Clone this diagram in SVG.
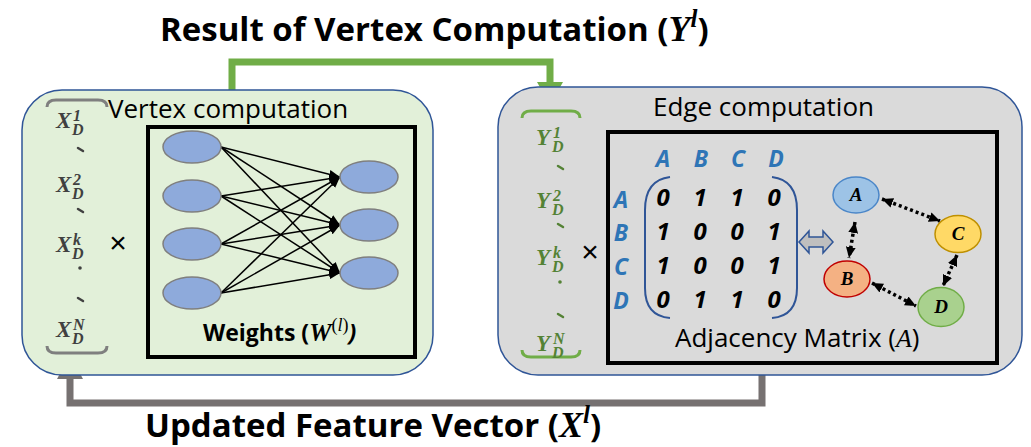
<svg xmlns="http://www.w3.org/2000/svg" width="1031" height="447" viewBox="0 0 1031 447">
  <style>
    .sans { font-family: "Open Sans", "Liberation Sans", sans-serif; }
    .title { font-family: "Open Sans", "Liberation Sans", sans-serif; font-weight: bold; font-size: 33px; fill: #000; }
    .lbl { font-family: "Open Sans", "Liberation Sans", sans-serif; font-size: 26px; fill: #000; }
    .math { font-family: "Liberation Serif", "DejaVu Serif", serif; font-style: italic; font-weight: bold; }
    .mathr { font-family: "Liberation Serif", "DejaVu Serif", serif; font-style: italic; }
    .xv { font-family: "Liberation Serif", "DejaVu Serif", serif; font-style: italic; font-weight: bold; font-size: 23px; fill: #404040; }
    .yv { font-family: "Liberation Serif", "DejaVu Serif", serif; font-style: italic; font-weight: bold; font-size: 23px; fill: #548235; }
    .ss { font-size: 16px; }
    .box-v { fill: #e2f0d9; stroke: #2f5597; stroke-width: 1.5; }
    .box-e { fill: #dadada; stroke: #2f5597; stroke-width: 1.5; }
    .inner { fill: none; stroke: #000; stroke-width: 4; }
    .neuron { fill: #8eaadb; stroke: #7f7f7f; stroke-width: 1.5; }
    .wire { stroke: #000; stroke-width: 1.5; fill: none; marker-end: url(#tip); }
    .hdr { font-family: "Open Sans", "Liberation Sans", sans-serif; font-style: italic; font-weight: bold; font-size: 23px; fill: #2e75b6; }
    .bit { font-family: "Open Sans", "Liberation Sans", sans-serif; font-style: italic; font-weight: bold; font-size: 24px; fill: #000; }
    .node-l { font-family: "Liberation Serif", "DejaVu Serif", serif; font-style: italic; font-weight: bold; font-size: 19px; fill: #000; }
    .dots { stroke: #000; stroke-width: 3.5; stroke-dasharray: 3 3; fill: none; marker-start: url(#dtip); marker-end: url(#dtip); }
    .times { font-family: "Liberation Sans", sans-serif; font-size: 30px; fill: #000; }
  </style>
  <defs>
    <marker id="tip" viewBox="0 0 10 8" refX="10" refY="4" markerWidth="11" markerHeight="9" markerUnits="userSpaceOnUse" orient="auto">
      <path d="M0,0 L10,4 L0,8 z" fill="#000"/>
    </marker>
    <marker id="dtip" viewBox="0 0 10 9" refX="10" refY="4.5" markerWidth="11" markerHeight="10" markerUnits="userSpaceOnUse" orient="auto-start-reverse">
      <path d="M0,0 L10,4.5 L0,9 z" fill="#000"/>
    </marker>
  </defs>

  <!-- connectors between the two stages -->
  <g id="connectors">
    <path d="M232,90 V62 H550 V84" fill="none" stroke="#70ad47" stroke-width="7"/>
    <polygon points="537,82 563,82 550,105" fill="#70ad47"/>
    <path d="M762,375 V403 H70 V376" fill="none" stroke="#767171" stroke-width="7"/>
    <polygon points="57,379 83,379 70,355" fill="#767171"/>
  </g>

  <text class="title" x="160" y="41">Result of Vertex Computation (<tspan class="math" font-size="36">Y</tspan><tspan class="mathr" font-size="25" dy="-14">l</tspan><tspan dy="14">)</tspan></text>
  <text class="title" x="145" y="437">Updated Feature Vector (<tspan class="math" font-size="36">X</tspan><tspan class="mathr" font-size="25" dy="-14">l</tspan><tspan dy="14">)</tspan></text>

  <!-- vertex computation stage -->
  <g id="vertex-stage">
    <rect class="box-v" x="22" y="90" width="411" height="285" rx="40" ry="40"/>
    <text class="lbl" x="108" y="118">Vertex computation</text>
    <path d="M47,107 Q47,100 56,100 H98 Q107,100 107,107" fill="none" stroke="#7f7f7f" stroke-width="3"/>
    <path d="M47,346 Q47,353 56,353 H98 Q107,353 107,346" fill="none" stroke="#7f7f7f" stroke-width="3"/>
    <text class="xv" x="56" y="128">X<tspan class="ss" x="73" y="121">1</tspan><tspan class="ss" x="72" y="135">D</tspan></text>
    <text class="xv" x="56" y="192">X<tspan class="ss" x="73" y="185">2</tspan><tspan class="ss" x="72" y="199">D</tspan></text>
    <text class="xv" x="56" y="252">X<tspan class="ss" x="73" y="245">k</tspan><tspan class="ss" x="72" y="259">D</tspan></text>
    <text class="xv" x="56" y="337">X<tspan class="ss" x="73" y="330">N</tspan><tspan class="ss" x="72" y="344">D</tspan></text>
    <g stroke="#404040" stroke-width="2.5" stroke-linecap="round">
      <line x1="78" y1="148" x2="83" y2="151"/>
      <line x1="78" y1="209" x2="83" y2="212"/>
      <line x1="78" y1="298" x2="83" y2="301"/>
    </g>
    <circle cx="80" cy="268" r="1.8" fill="#404040"/>
    <text class="times" x="118" y="253" text-anchor="middle">×</text>

    <rect class="inner" x="148" y="127" width="267" height="230"/>
    <g id="weights">
      <line class="wire" x1="221" y1="147" x2="340" y2="177"/>
      <line class="wire" x1="221" y1="147" x2="340" y2="225"/>
      <line class="wire" x1="221" y1="147" x2="340" y2="273"/>
      <line class="wire" x1="221" y1="196" x2="340" y2="177"/>
      <line class="wire" x1="221" y1="196" x2="340" y2="225"/>
      <line class="wire" x1="221" y1="196" x2="340" y2="273"/>
      <line class="wire" x1="221" y1="244" x2="340" y2="177"/>
      <line class="wire" x1="221" y1="244" x2="340" y2="225"/>
      <line class="wire" x1="221" y1="244" x2="340" y2="273"/>
      <line class="wire" x1="221" y1="293" x2="340" y2="177"/>
      <line class="wire" x1="221" y1="293" x2="340" y2="225"/>
      <line class="wire" x1="221" y1="293" x2="340" y2="273"/>
    </g>
    <ellipse class="neuron" cx="192" cy="147" rx="29" ry="16"/>
    <ellipse class="neuron" cx="192" cy="196" rx="29" ry="16"/>
    <ellipse class="neuron" cx="192" cy="244" rx="29" ry="16"/>
    <ellipse class="neuron" cx="192" cy="293" rx="29" ry="16"/>
    <ellipse class="neuron" cx="369" cy="177" rx="29" ry="16"/>
    <ellipse class="neuron" cx="369" cy="225" rx="29" ry="16"/>
    <ellipse class="neuron" cx="369" cy="273" rx="29" ry="16"/>
    <text class="sans" x="203" y="341" font-size="23" font-weight="bold">Weights (<tspan class="math" font-size="25">W</tspan><tspan font-family="Liberation Serif, serif" font-weight="normal" font-size="18" dy="-10">(<tspan font-style="italic">l</tspan>)</tspan><tspan dy="10" font-style="italic">)</tspan></text>
  </g>

  <!-- edge computation stage -->
  <g id="edge-stage">
    <rect class="box-e" x="498" y="87" width="524" height="288" rx="40" ry="40"/>
    <text class="lbl" x="653" y="116">Edge computation</text>
    <path d="M522,118 Q522,111 531,111 H571 Q580,111 580,118" fill="none" stroke="#70ad47" stroke-width="3"/>
    <path d="M522,350 Q522,357 531,357 H571 Q580,357 580,350" fill="none" stroke="#70ad47" stroke-width="3"/>
    <text class="yv" x="536" y="145">Y<tspan class="ss" x="553" y="138">1</tspan><tspan class="ss" x="552" y="152">D</tspan></text>
    <text class="yv" x="536" y="208">Y<tspan class="ss" x="553" y="201">2</tspan><tspan class="ss" x="552" y="215">D</tspan></text>
    <text class="yv" x="536" y="265">Y<tspan class="ss" x="553" y="258">k</tspan><tspan class="ss" x="552" y="272">D</tspan></text>
    <text class="yv" x="536" y="351">Y<tspan class="ss" x="553" y="344">N</tspan><tspan class="ss" x="552" y="358">D</tspan></text>
    <g stroke="#548235" stroke-width="2.5" stroke-linecap="round">
      <line x1="558" y1="166" x2="563" y2="169"/>
      <line x1="558" y1="224" x2="563" y2="227"/>
      <line x1="558" y1="314" x2="563" y2="317"/>
    </g>
    <circle cx="560" cy="282" r="1.8" fill="#548235"/>
    <text class="times" x="590" y="262" text-anchor="middle">×</text>

    <rect class="inner" x="608" y="132" width="389" height="231"/>
    <g id="matrix">
      <text class="hdr" x="663" y="167" text-anchor="middle">A</text>
      <text class="hdr" x="701" y="167" text-anchor="middle">B</text>
      <text class="hdr" x="738" y="167" text-anchor="middle">C</text>
      <text class="hdr" x="776" y="167" text-anchor="middle">D</text>
      <text class="hdr" x="621" y="208" text-anchor="middle">A</text>
      <text class="hdr" x="621" y="241" text-anchor="middle">B</text>
      <text class="hdr" x="621" y="275" text-anchor="middle">C</text>
      <text class="hdr" x="621" y="309" text-anchor="middle">D</text>
      <path d="M670,177 Q645,180 645,210 V288 Q645,316 670,318" fill="none" stroke="#2f5597" stroke-width="2"/>
      <path d="M772,177 Q797,180 797,210 V288 Q797,316 772,318" fill="none" stroke="#2f5597" stroke-width="2"/>
      <g class="bit" text-anchor="middle">
        <text x="663" y="206">0</text><text x="700" y="206">1</text><text x="737" y="206">1</text><text x="774" y="206">0</text>
        <text x="663" y="240">1</text><text x="700" y="240">0</text><text x="737" y="240">0</text><text x="774" y="240">1</text>
        <text x="663" y="274">1</text><text x="700" y="274">0</text><text x="737" y="274">0</text><text x="774" y="274">1</text>
        <text x="663" y="308">0</text><text x="700" y="308">1</text><text x="737" y="308">1</text><text x="774" y="308">0</text>
      </g>
    </g>
    <polygon points="799,242 809,231 809,237 823,237 823,231 833,242 823,253 823,247 809,247 809,253" fill="#bfbfbf" stroke="#2f5597" stroke-width="1.5"/>
    <text class="lbl" x="675" y="347">Adjacency Matrix (<tspan class="mathr" font-family="Liberation Serif, serif">A</tspan>)</text>
  </g>

  <!-- graph of the adjacency matrix -->
  <g id="graph-edges">
    <line class="dots" x1="855" y1="222" x2="849" y2="258"/>
    <line class="dots" x1="882" y1="199" x2="940" y2="221"/>
    <line class="dots" x1="957" y1="255" x2="943" y2="286"/>
    <line class="dots" x1="872" y1="283" x2="916" y2="306"/>
  </g>
  <g id="node-A">
    <ellipse cx="856" cy="195" rx="23" ry="18" fill="#9dc3e6" stroke="#4a86c8" stroke-width="1.5"/>
    <text class="node-l" x="856" y="201" text-anchor="middle">A</text>
  </g>
  <g id="node-B">
    <ellipse cx="847" cy="279" rx="23" ry="18" fill="#f4b183" stroke="#c00000" stroke-width="1.5"/>
    <text class="node-l" x="847" y="285" text-anchor="middle">B</text>
  </g>
  <g id="node-C">
    <ellipse cx="958" cy="234" rx="23" ry="18.5" fill="#ffd966" stroke="#bf9000" stroke-width="1.5"/>
    <text class="node-l" x="958" y="240" text-anchor="middle">C</text>
  </g>
  <g id="node-D">
    <ellipse cx="941" cy="307" rx="23" ry="19.5" fill="#a9d18e" stroke="#70ad47" stroke-width="1.5"/>
    <text class="node-l" x="941" y="313" text-anchor="middle">D</text>
  </g>
</svg>
